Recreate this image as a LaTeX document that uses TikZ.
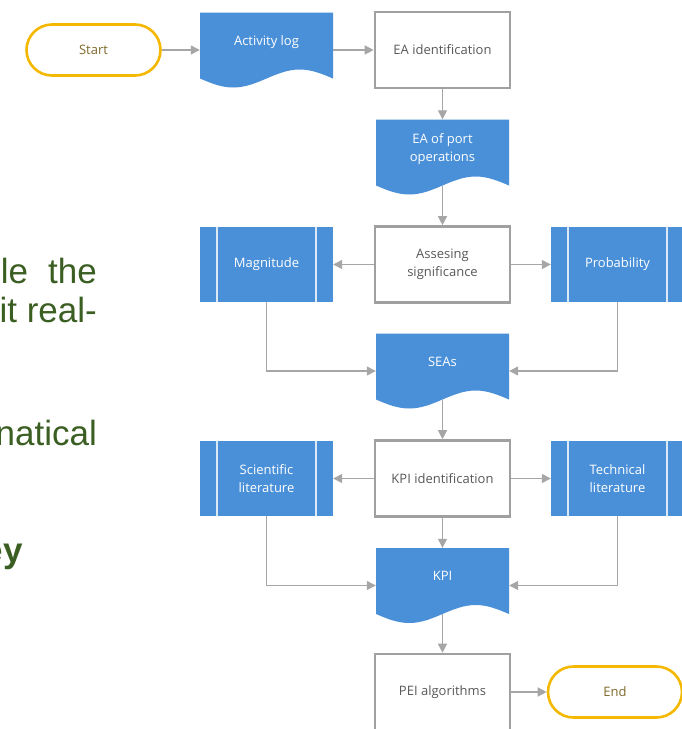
\documentclass[tikz,border=0pt]{standalone}
\usepackage{fontspec}
\setmainfont{Liberation Sans}
\newfontfamily\schemafont{Open Sans}
\usepackage{xcolor}
\usepackage{tikz}
\usetikzlibrary{arrows.meta}
\definecolor{bleu}{HTML}{4A90D9}
\definecolor{gris}{HTML}{A6A6A6}
\definecolor{grisbord}{HTML}{A0A0A0}
\definecolor{gristexte}{HTML}{595959}
\definecolor{jaune}{HTML}{F5B800}
\definecolor{olive}{HTML}{7F6A2A}
\definecolor{vertfonce}{HTML}{3B5E22}

\begin{document}
\begin{tikzpicture}[x=1pt,y=-1pt]
% Styles
\tikzstyle{fleche}=[-{Triangle[length=9pt,width=9pt]},draw=gris,line width=1.3pt]
\tikzstyle{debutfin}=[draw=jaune,line width=2.6pt,fill=white,rounded corners=25.5pt,minimum width=134pt,minimum height=51pt,text=olive,font=\schemafont\fontsize{13}{17.5}\selectfont]
\tikzstyle{processus}=[draw=grisbord,line width=2.6pt,fill=white,minimum width=135pt,minimum height=76pt,text=gristexte,align=center,font=\schemafont\fontsize{13}{17.5}\selectfont]
\tikzstyle{docu}=[fill=white,inner sep=0pt,minimum width=133pt,minimum height=75pt,text depth=19pt,text=white,align=center,font=\schemafont\fontsize{13}{17.5}\selectfont,
  path picture={\fill[bleu] (path picture bounding box.south west) ++(0pt,9pt) sin ++(33.25pt,-9pt) cos ++(33.25pt,9pt) sin ++(33.25pt,9pt) cos ++(33.25pt,-9pt) |- (path picture bounding box.north west) -- cycle;}]
\tikzstyle{predefini}=[fill=bleu,minimum width=133pt,minimum height=75pt,text=white,align=center,font=\schemafont\fontsize{13}{17.5}\selectfont,
  path picture={\draw[white!80!bleu,line width=1.3pt] ([xshift=17pt]path picture bounding box.north west) -- ([xshift=17pt]path picture bounding box.south west) ([xshift=-17pt]path picture bounding box.north east) -- ([xshift=-17pt]path picture bounding box.south east);}]
\tikzstyle{textegauche}=[anchor=base east,inner sep=0pt,text=vertfonce,font=\fontsize{35}{40}\selectfont]
% Dimensions
\def\ColA{93.5}
\def\ColB{266.5}
\def\ColC{442.5}
\def\ColD{617.5}
\def\LigneA{50}
\def\LigneB{157}
\def\LigneC{264.5}
\def\LigneD{371}
\def\LigneE{478.5}
\def\LigneF{585.5}
\def\LigneG{692}
\clip (0,0) rectangle (682,729);
% Texte de la diapositive
\node[textegauche] (T1) at (97,283) {le\hspace{20pt}the};
\node[textegauche] (T2) at (97,322) {it real-};
\node[textegauche] (T3) at (97,445) {natical};
\node[textegauche,font=\bfseries\fontsize{35}{40}\selectfont] (T4) at (23,562) {ey};
% Noeuds
\node[debutfin] (Start) at (\ColA,\LigneA) {Start};
\node[docu] (Journal) at (\ColB,\LigneA) {Activity log};
\node[processus] (IdEA) at (\ColC,\LigneA) {EA identification};
\node[docu] (EAport) at (\ColC,\LigneB) {EA of port\\operations};
\node[processus] (Signif) at (\ColC,\LigneC) {Assesing\\significance};
\node[predefini] (Magn) at (\ColB,\LigneC) {Magnitude};
\node[predefini] (Proba) at (\ColD,\LigneC) {Probability};
\node[docu] (SEA) at (\ColC,\LigneD) {SEAs};
\node[processus] (IdKPI) at (\ColC,\LigneE) {KPI identification};
\node[predefini] (LitSci) at (\ColB,\LigneE) {Scientific\\literature};
\node[predefini] (LitTech) at (\ColD,\LigneE) {Technical\\literature};
\node[docu] (KPI) at (\ColC,\LigneF) {KPI};
\node[processus] (PEI) at (\ColC,\LigneG) {PEI algorithms};
\node[debutfin] (End) at (615,\LigneG) {End};
% Arcs
\draw[fleche] (Start)--(Journal);
\draw[fleche] (Journal)--(IdEA);
\draw[fleche] (IdEA)--(EAport);
\draw[fleche] ([yshift=9pt]EAport.south)--(Signif);
\draw[fleche] (Signif)--(Magn);
\draw[fleche] (Signif)--(Proba);
\draw[fleche] (Magn.south) |- (SEA);
\draw[fleche] (Proba.south) |- (SEA);
\draw[fleche] ([yshift=9pt]SEA.south)--(IdKPI);
\draw[fleche] (IdKPI)--(LitSci);
\draw[fleche] (IdKPI)--(LitTech);
\draw[fleche] (LitSci.south) |- (KPI);
\draw[fleche] (LitTech.south) |- (KPI);
\draw[fleche] (IdKPI)--(KPI);
\draw[fleche] ([yshift=9pt]KPI.south)--(PEI);
\draw[fleche] (PEI)--(End);
\end{tikzpicture}
\end{document}
